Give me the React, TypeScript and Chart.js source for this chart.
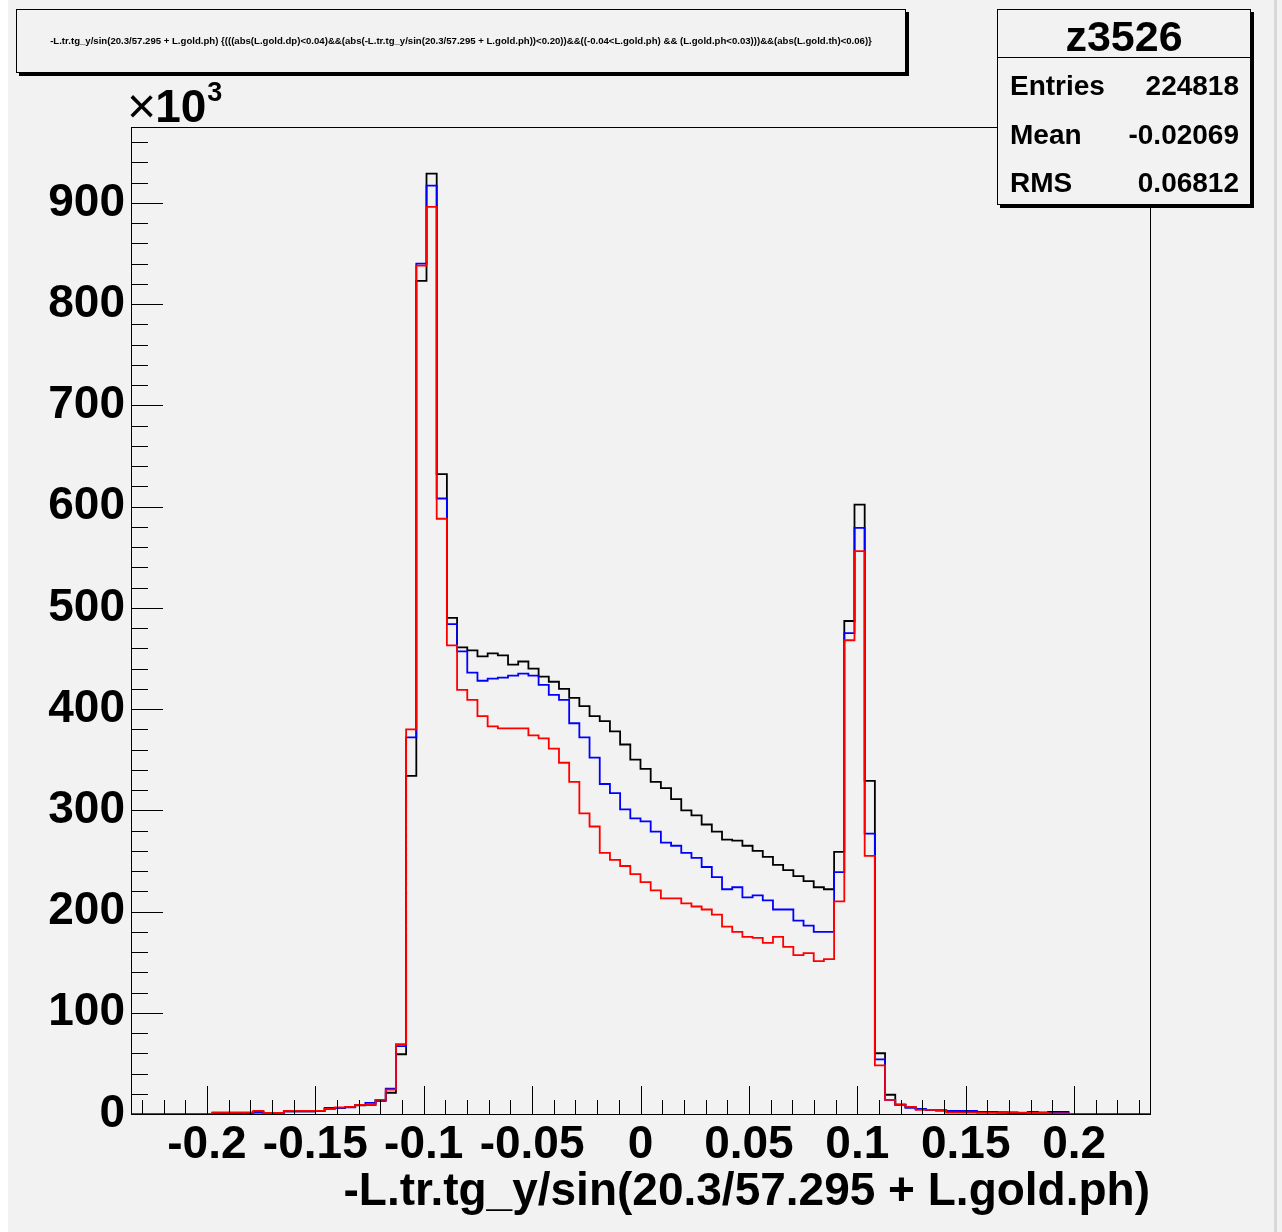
import React, { useEffect, useRef } from "react";
import { Chart, registerables } from "chart.js";

Chart.register(...registerables);

// ---- Histogram definition (100 bins) ----
const BIN_MIN = -0.235;
const BIN_MAX = 0.235;
const N_BINS = 100;

// Bin contents (x10^3 entries)
const BLACK = [
  0, 0, 0, 0, 0, 0, 0, 0, 1, 1,
  1, 1, 1.5, 1, 1, 2.5, 2.5, 2.5, 3, 5,
  6, 7, 8.5, 9, 13, 21, 59, 334, 823, 929,
  632, 490, 461, 458, 452, 455, 453, 444, 447, 440,
  432, 427, 420, 411, 403, 393, 388, 378, 365, 350,
  341, 328, 322, 311, 300, 295, 286, 279, 271, 270,
  265, 260, 254, 246, 241, 235, 230, 224, 222, 259,
  487, 602, 329, 60, 19, 9, 7, 5, 4, 3.5,
  3, 3, 3, 2, 2, 1.5, 1.5, 1, 1, 1,
  2, 2, 0, 0, 0, 0, 0, 0, 0, 0,
];

const BLUE = [
  0, 0, 0, 0, 0, 0, 0, 0, 1, 1,
  1, 1, 2, 1, 1, 2.5, 2.5, 2.5, 3, 6,
  6, 6.5, 9, 11, 14, 25, 67, 372, 840, 917,
  608, 484, 457, 436, 428, 430, 431, 433, 435, 433,
  424, 414, 409, 386, 372, 352, 326, 317, 301, 292,
  289, 279, 268, 265, 258, 253, 244, 234, 222, 224,
  214, 216, 211, 202, 202, 191, 186, 180, 180, 239,
  475, 579, 277, 54, 14, 9.5, 6, 5, 4, 3.5,
  3, 3, 3, 1.5, 1.5, 1.5, 1, 1, 2, 1.5,
  1, 1, 0, 0, 0, 0, 0, 0, 0, 0,
];

const RED = [
  0, 0, 0, 0, 0, 0, 0, 0, 1.5, 1.5,
  1.5, 1.5, 3, 1, 1, 3, 3, 3, 3, 5,
  6.5, 7, 9, 9, 14, 24, 69, 380, 838, 896,
  588, 463, 419, 409, 393, 383, 381, 381, 381, 374,
  371, 361, 347, 328, 297, 284, 258, 251, 245, 237,
  229, 221, 213, 213, 208, 205, 202, 197, 185, 180,
  175, 174, 169, 175, 165, 157, 159, 151, 153, 210,
  468, 556, 255, 48, 14, 9, 7, 4, 4, 3.3,
  1.3, 1.3, 1.3, 1.3, 1.3, 1.3, 1.3, 1.3, 1, 1,
  0.5, 0.5, 0, 0, 0, 0, 0, 0, 0, 0,
];

const X_TICKS = [-0.2, -0.15, -0.1, -0.05, 0, 0.05, 0.1, 0.15, 0.2];
const X_TICK_LABELS = ["-0.2", "-0.15", "-0.1", "-0.05", "0", "0.05", "0.1", "0.15", "0.2"];
const X_MINOR_STEP = 0.01;
const Y_TICKS = [0, 100, 200, 300, 400, 500, 600, 700, 800, 900];
const Y_TICK_LABELS = ["0", "100", "200", "300", "400", "500", "600", "700", "800", "900"];
const Y_MINOR_STEP = 20;
const Y_MIN = 0;
const Y_MAX = 975;

const X_TITLE = "-L.tr.tg_y/sin(20.3/57.295 + L.gold.ph)";
const PLOT_TITLE =
  "-L.tr.tg_y/sin(20.3/57.295 + L.gold.ph) {(((abs(L.gold.dp)<0.04)&&(abs(-L.tr.tg_y/sin(20.3/57.295 + L.gold.ph))<0.20))&&((-0.04<L.gold.ph) && (L.gold.ph<0.03)))&&(abs(L.gold.th)<0.06)}";
const STATS_NAME = "z3526";
const STATS_LABELS = ["Entries", "Mean", "RMS"];
const STATS_VALUES = ["224818", "-0.02069", "0.06812"];

const FONT = "'Liberation Sans', Arial, Helvetica, sans-serif";
const BG = "#f2f2f2";

function toSteps(values: number[]) {
  const w = (BIN_MAX - BIN_MIN) / N_BINS;
  const pts = values.map((v, i) => ({ x: BIN_MIN + i * w, y: v }));
  pts.push({ x: BIN_MAX, y: values[values.length - 1] });
  return pts;
}

const decorPlugin = {
  id: "rootDecor",
  beforeDraw(chart: any) {
    const ctx = chart.ctx;
    ctx.save();
    ctx.fillStyle = BG;
    ctx.fillRect(0, 0, chart.width, chart.height);
    ctx.fillStyle = "#ffffff";
    ctx.fillRect(0, 0, 8, chart.height);
    ctx.fillStyle = "#d8d8d8";
    ctx.fillRect(1274, 0, 3, chart.height);
    ctx.restore();
  },
  afterDatasetsDraw(chart: any) {
    const ctx = chart.ctx;
    const ca = chart.chartArea;
    const xs = chart.scales.x;
    const ys = chart.scales.y;
    ctx.save();
    ctx.strokeStyle = "#000";
    ctx.lineWidth = 1;
    // frame
    ctx.strokeRect(Math.round(ca.left) + 0.5, Math.round(ca.top) + 0.5, Math.round(ca.right - ca.left), Math.round(ca.bottom - ca.top));
    // x ticks (inside)
    ctx.beginPath();
    const kMin = Math.ceil(BIN_MIN / X_MINOR_STEP - 1e-9);
    const kMax = Math.floor(BIN_MAX / X_MINOR_STEP + 1e-9);
    for (let k = kMin; k <= kMax; k++) {
      const v = k * X_MINOR_STEP;
      const major = X_TICKS.some((t) => Math.abs(t - v) < 1e-9);
      const px = Math.round(xs.getPixelForValue(v)) + 0.5;
      ctx.moveTo(px, ca.bottom);
      ctx.lineTo(px, ca.bottom - (major ? 28 : 14));
    }
    // y ticks (inside)
    for (let v = Y_MIN; v <= Y_MAX; v += Y_MINOR_STEP) {
      const major = Y_TICKS.includes(v);
      const py = Math.round(ys.getPixelForValue(v)) + 0.5;
      ctx.moveTo(ca.left, py);
      ctx.lineTo(ca.left + (major ? 32 : 17), py);
    }
    ctx.stroke();
    ctx.restore();
  },
  afterDraw(chart: any) {
    const ctx = chart.ctx;
    const ca = chart.chartArea;
    ctx.save();
    ctx.fillStyle = "#000";
    ctx.textBaseline = "alphabetic";

    // x10^3
    ctx.textAlign = "left";
    ctx.font = `50px ${FONT}`;
    ctx.fillText("\u00d7", 127, 123);
    const wx = ctx.measureText("\u00d7").width;
    ctx.font = `bold 46px ${FONT}`;
    ctx.fillText("10", 126 + wx, 122);
    const w10 = ctx.measureText("10").width;
    ctx.font = `bold 27px ${FONT}`;
    ctx.fillText("3", 126 + wx + w10 + 1, 101);

    // x axis title
    ctx.textAlign = "right";
    ctx.font = `bold 46px ${FONT}`;
    ctx.fillText(X_TITLE, ca.right, 1205);

    // boxes with ROOT-style shadow
    const box = (x1: number, y1: number, x2: number, y2: number) => {
      ctx.fillStyle = "#000";
      ctx.fillRect(x1 + 3, y1 + 3, x2 - x1, y2 - y1);
      ctx.fillStyle = BG;
      ctx.fillRect(x1, y1, x2 - x1, y2 - y1);
      ctx.strokeStyle = "#000";
      ctx.lineWidth = 1;
      ctx.strokeRect(x1 + 0.5, y1 + 0.5, x2 - x1 - 1, y2 - y1 - 1);
    };
    box(16, 9, 906, 73);
    ctx.fillStyle = "#000";
    ctx.textAlign = "center";
    ctx.font = `bold 9.6px ${FONT}`;
    ctx.fillText(PLOT_TITLE, 461, 44);

    // stats box
    box(997, 9, 1251, 205);
    ctx.beginPath();
    ctx.moveTo(997, 57.5);
    ctx.lineTo(1251, 57.5);
    ctx.stroke();
    ctx.fillStyle = "#000";
    ctx.textAlign = "center";
    ctx.font = `bold 43px ${FONT}`;
    ctx.fillText(STATS_NAME, 1124, 51);
    ctx.font = `bold 28px ${FONT}`;
    const rows = [95, 144, 192];
    STATS_LABELS.forEach((lab, i) => {
      ctx.textAlign = "left";
      ctx.fillText(lab, 1010, rows[i]);
      ctx.textAlign = "right";
      ctx.fillText(STATS_VALUES[i], 1239, rows[i]);
    });
    ctx.restore();
  },
};

export default function App() {
  const ref = useRef<HTMLCanvasElement | null>(null);

  useEffect(() => {
    document.body.style.margin = "0";
    const canvas = ref.current;
    if (!canvas) return;
    const tickFont = { family: FONT, size: 46, weight: "bold" as const };
    const chart = new Chart(canvas, {
      type: "line",
      data: {
        datasets: [
          { label: "black", data: toSteps(BLACK), borderColor: "#000000", order: 3 },
          { label: "blue", data: toSteps(BLUE), borderColor: "#0000ff", order: 2 },
          { label: "red", data: toSteps(RED), borderColor: "#ff0000", order: 1 },
        ].map((d) => ({
          ...d,
          stepped: true as const,
          borderWidth: 1.8,
          pointRadius: 0,
          fill: false,
          tension: 0,
        })),
      },
      options: {
        responsive: false,
        animation: false,
        devicePixelRatio: 1,
        parsing: false as any,
        layout: { padding: { top: 127, right: 132, left: 0, bottom: 0 } },
        plugins: {
          legend: { display: false },
          title: { display: false },
          tooltip: { enabled: false },
        },
        events: [],
        scales: {
          x: {
            type: "linear",
            min: BIN_MIN,
            max: BIN_MAX,
            grid: { display: false, drawTicks: false },
            border: { display: false },
            afterBuildTicks: (scale: any) => {
              scale.ticks = X_TICKS.map((v) => ({ value: v }));
            },
            afterFit: (scale: any) => {
              scale.height = 118;
            },
            ticks: {
              autoSkip: false,
              maxRotation: 0,
              minRotation: 0,
              padding: 4,
              color: "#000",
              font: tickFont,
              callback: (v: any) => {
                const i = X_TICKS.findIndex((t) => Math.abs(t - Number(v)) < 1e-9);
                return i >= 0 ? X_TICK_LABELS[i] : "";
              },
            },
          },
          y: {
            type: "linear",
            min: Y_MIN,
            max: Y_MAX,
            grid: { display: false, drawTicks: false },
            border: { display: false },
            afterBuildTicks: (scale: any) => {
              scale.ticks = Y_TICKS.map((v) => ({ value: v }));
            },
            afterFit: (scale: any) => {
              scale.width = 131;
            },
            ticks: {
              autoSkip: false,
              padding: 6,
              color: "#000",
              font: tickFont,
              callback: (v: any) => {
                const i = Y_TICKS.indexOf(Number(v));
                return i >= 0 ? Y_TICK_LABELS[i] : "";
              },
            },
          },
        },
      },
      plugins: [decorPlugin],
    });
    return () => chart.destroy();
  }, []);

  return <canvas ref={ref} width={1282} height={1232} style={{ display: "block" }} />;
}
